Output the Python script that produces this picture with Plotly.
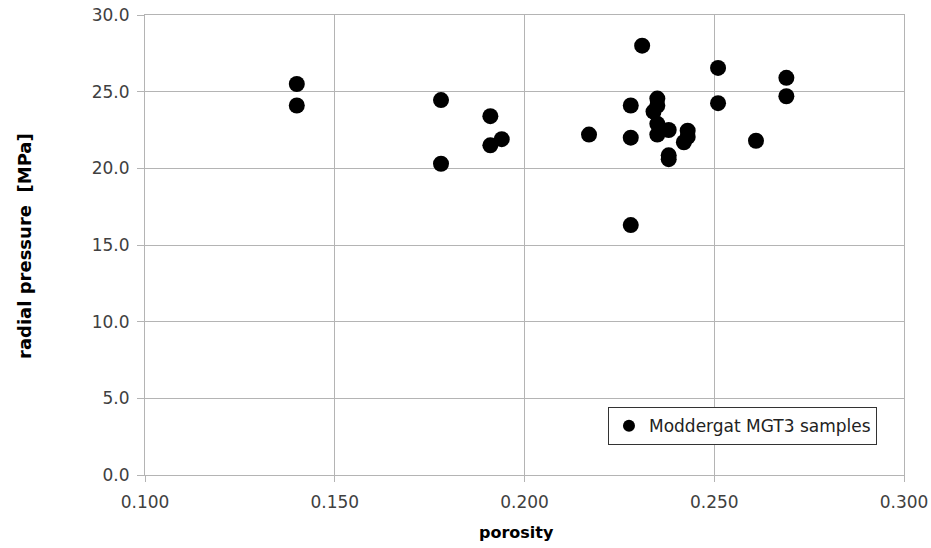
import plotly.graph_objects as go

# Moddergat MGT3 samples: porosity vs. radial pressure
porosity = [0.140, 0.140, 0.178, 0.178, 0.191, 0.191, 0.194,
            0.217, 0.228, 0.228, 0.228, 0.231,
            0.235, 0.235, 0.234, 0.235, 0.235, 0.238,
            0.238, 0.238, 0.243, 0.243, 0.242,
            0.251, 0.251, 0.261, 0.269, 0.269]
radial_pressure = [25.5, 24.1, 24.45, 20.3, 23.4, 21.5, 21.9,
                   22.2, 24.1, 22.0, 16.3, 28.0,
                   24.55, 24.1, 23.7, 22.9, 22.2, 22.5,
                   20.85, 20.6, 22.45, 22.05, 21.7,
                   26.55, 24.25, 21.8, 25.9, 24.7]

x_ticks = [0.100, 0.150, 0.200, 0.250, 0.300]
y_ticks = [0.0, 5.0, 10.0, 15.0, 20.0, 25.0, 30.0]

grid_color = "#b4b4b4"
font_family = "DejaVu Sans, sans-serif"
tick_font = dict(family=font_family, size=17, color="#404040")

fig = go.Figure()
fig.add_trace(go.Scatter(
    x=porosity, y=radial_pressure, mode="markers",
    name="Moddergat MGT3 samples",
    marker=dict(color="black", size=16, line=dict(width=0)),
))

axis_common = dict(
    showgrid=True, gridcolor=grid_color, gridwidth=1,
    showline=True, linecolor=grid_color, mirror=True,
    ticks="outside", tickcolor=grid_color,
    tickfont=tick_font, zeroline=False, automargin=False,
)

fig.update_layout(
    width=931, height=548,
    margin=dict(l=145, r=27, t=15, b=73),
    paper_bgcolor="white", plot_bgcolor="white",
    showlegend=True,
    legend=dict(
        x=0.9644, y=0.065, xanchor="right", yanchor="bottom",
        bordercolor="#333333", borderwidth=1, bgcolor="white",
        font=dict(family=font_family, size=17, color="#222222"),
        itemsizing="constant", itemwidth=30,
    ),
    xaxis=dict(
        range=[0.100, 0.300], tickvals=x_ticks,
        ticktext=[f"{v:.3f}" for v in x_ticks],
        ticklen=6, ticklabelstandoff=6, **axis_common,
    ),
    yaxis=dict(
        range=[0.0, 30.0], tickvals=y_ticks,
        ticktext=[f"{v:.1f}" for v in y_ticks],
        ticklen=7, ticklabelstandoff=4, **axis_common,
    ),
    annotations=[
        dict(text="<b>porosity</b>", xref="paper", yref="paper",
             x=0.4895, y=-0.126, xanchor="center", yanchor="middle",
             showarrow=False, font=dict(family=font_family, size=16, color="black")),
        dict(text="<b>radial pressure&nbsp;&nbsp;[MPa]</b>", xref="paper", yref="paper",
             x=-0.158, y=0.498, xanchor="center", yanchor="middle",
             textangle=-90, showarrow=False,
             font=dict(family=font_family, size=18, color="black")),
    ],
)

fig.write_html("out.html")
